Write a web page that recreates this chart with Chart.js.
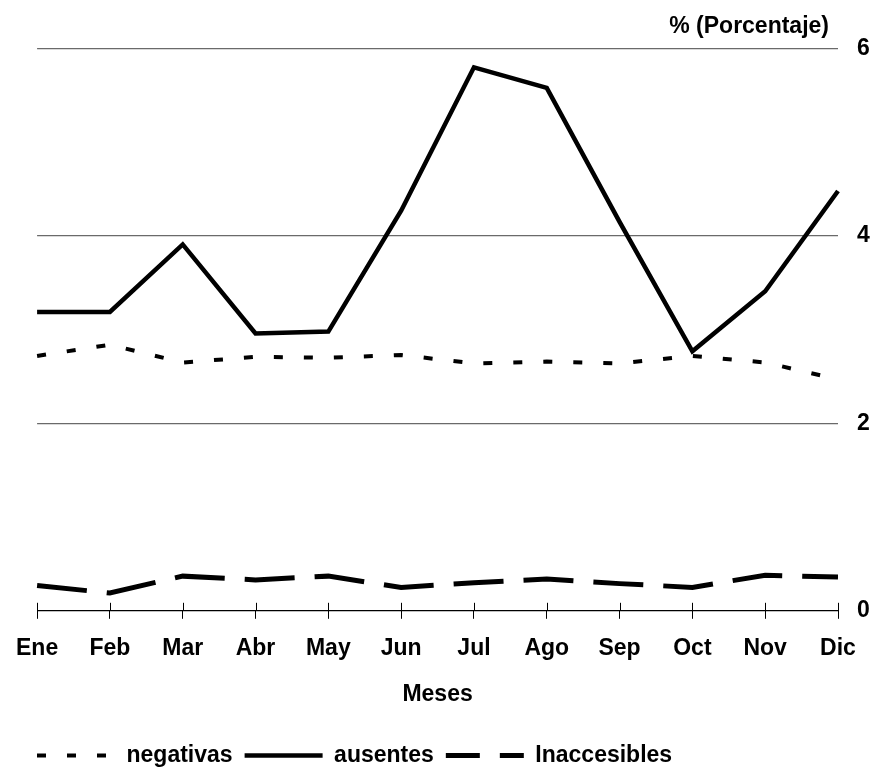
<!DOCTYPE html>
<html>
<head>
<meta charset="utf-8">
<script src="https://cdn.jsdelivr.net/npm/chart.js@4/dist/chart.umd.min.js"></script>
<style>
  html, body { margin: 0; padding: 0; background: #fff; }
  #wrap { width: 872px; height: 767px; position: relative; }
</style>
</head>
<body>
<div id="wrap"><canvas id="chart"></canvas></div>
<script>
const months = ["Ene", "Feb", "Mar", "Abr", "May", "Jun", "Jul", "Ago", "Sep", "Oct", "Nov", "Dic"];
const negativas = [2.72, 2.84, 2.65, 2.71, 2.70, 2.73, 2.64, 2.66, 2.64, 2.72, 2.65, 2.47];
const ausentes = [3.19, 3.19, 3.91, 2.96, 2.98, 4.27, 5.80, 5.58, 4.15, 2.77, 3.41, 4.48];
const inaccesibles = [0.27, 0.19, 0.37, 0.33, 0.37, 0.25, 0.30, 0.34, 0.29, 0.25, 0.38, 0.36];
const yTicks = [0, 2, 4, 6];

const FONT = "'Liberation Sans', Arial, sans-serif";

// unit title top right + small ticks above the x axis
const extras = {
    id: "extras",
    afterLayout(chart) {
        // legend starts a bit further right than the chart padding
        const lg = chart.legend;
        const shift = 37 - (lg.left + lg.options.labels.padding);
        lg.left += shift;
        lg.right += shift;
    },
    afterDraw(chart) {
        const ctx = chart.ctx;
        const area = chart.chartArea;
        const x = chart.scales.x;
        ctx.save();
        ctx.strokeStyle = "#000";
        ctx.lineWidth = 1;
        x.ticks.forEach((t, i) => {
            const px = Math.round(x.getPixelForTick(i)) + 0.5;
            ctx.beginPath();
            ctx.moveTo(px, area.bottom - 8);
            ctx.lineTo(px, area.bottom);
            ctx.stroke();
        });
        ctx.fillStyle = "#000";
        ctx.font = "bold 23px " + FONT;
        ctx.textAlign = "right";
        ctx.textBaseline = "middle";
        ctx.fillText("% (Porcentaje)", area.right - 9, 27);
        ctx.restore();
    }
};

const data = {
    labels: months,
    datasets: [
        {
            label: "negativas",
            data: negativas,
            borderColor: "#000",
            backgroundColor: "#000",
            borderWidth: 4,
            borderDash: [9, 21],
            pointRadius: 0,
            tension: 0
        },
        {
            label: "ausentes",
            data: ausentes,
            borderColor: "#000",
            backgroundColor: "#000",
            borderWidth: 4.5,
            pointRadius: 0,
            tension: 0
        },
        {
            label: "Inaccesibles",
            data: inaccesibles,
            borderColor: "#000",
            backgroundColor: "#000",
            borderWidth: 5,
            borderDash: [50, 20],
            pointRadius: 0,
            tension: 0
        }
    ]
};

const config = {
    type: "line",
    data,
    options: {
        responsive: true,
        maintainAspectRatio: false,
        animation: false,
        layout: { padding: { top: 48.6, left: 20.5, right: 0, bottom: -10 } },
        scales: {
            x: {
                offset: false,
                grid: { drawOnChartArea: false, color: "#000", tickLength: 8, lineWidth: 1 },
                border: { color: "#000", width: 1 },
                ticks: { color: "#000", font: { family: FONT, size: 23, weight: "bold" }, padding: 16, maxRotation: 0, autoSkip: false },
                title: { display: true, text: "Meses", color: "#000", font: { family: FONT, size: 23, weight: "bold" }, padding: { top: 2, bottom: 24 } }
            },
            y: {
                position: "right",
                min: 0,
                max: 6,
                afterBuildTicks: (axis) => { axis.ticks = yTicks.map(v => ({ value: v })); },
                afterFit: (axis) => { axis.width = 34; },
                grid: {
                    drawTicks: false,
                    color: (c) => c.tick && c.tick.value === 0 ? "#000" : "#6a6a6a",
                    lineWidth: 1.2
                },
                border: { display: false },
                ticks: { color: "#000", font: { family: FONT, size: 23, weight: "bold" }, padding: 19 }
            }
        },
        plugins: {
            legend: {
                position: "bottom",
                align: "start",
                labels: {
                    usePointStyle: true,
                    pointStyle: "line",
                    pointStyleWidth: 78,
                    color: "#000",
                    font: { family: FONT, size: 23, weight: "bold" },
                    padding: 12,
                    generateLabels: (chart) => {
                        const items = Chart.defaults.plugins.legend.labels.generateLabels(chart);
                        items.forEach((it, i) => {
                            const ds = chart.data.datasets[i];
                            it.lineDash = ds.borderDash || [];
                            it.lineDashOffset = i === 2 ? 16 : 0;
                            it.lineWidth = ds.borderWidth;
                            it.strokeStyle = "#000";
                            it.pointStyle = "line";
                        });
                        return items;
                    }
                }
            },
            tooltip: { enabled: false }
        }
    },
    plugins: [extras]
};

new Chart(document.getElementById("chart"), config);
</script>
</body>
</html>
